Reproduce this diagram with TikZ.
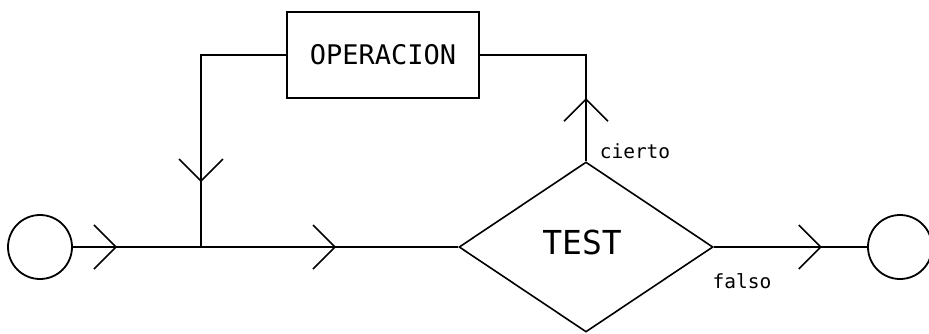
\documentclass[tikz,border=0pt]{standalone}
\usepackage{fontspec}
\newfontfamily\pixfont{DejaVu Sans Mono}
\usetikzlibrary{shapes.geometric,decorations.markings}
\tikzset{
  line/.style={line width=2pt},
  chev/.style={postaction={decorate},decoration={markings,
      mark=at position #1 with {\draw[line width=1.6pt] (-22pt,22pt) -- (0pt,0pt) -- (-22pt,-22pt);}}},
  endpt/.style={circle,draw,line width=1.8pt,minimum size=64pt,inner sep=0pt},
  opbox/.style={rectangle,draw,line width=2pt,minimum width=192pt,minimum height=86pt,inner sep=0pt,font=\pixfont\fontsize{27}{29}\selectfont},
  testnode/.style={diamond,draw,line width=1.6pt,minimum width=254pt,minimum height=170pt,inner sep=0pt},
  lbl/.style={font=\pixfont\fontsize{19.5}{21}\selectfont,inner sep=0pt}
}
\begin{document}
\begin{tikzpicture}[x=1pt,y=-1pt]
\useasboundingbox (0,0) rectangle (929,333);
\node[endpt] (start) at (40,247) {};
\node[endpt] (stop) at (900,247) {};
\node[testnode] (test) at (586,247) {};
\node[font=\pixfont\fontsize{33}{35}\selectfont,inner sep=0pt] (testlbl) at (582,242) {TEST};
\node[opbox] (op) at (383,55) {OPERACION};
\coordinate (j1) at (201,247);
\coordinate (c1) at (201,55);
\coordinate (c2) at (586,55);
\draw[line,chev=43pt] (start.east) -- (j1);
\draw[line,chev=134pt] (j1) -- (test.west);
\draw[line,chev=211pt] (op.west) -- (c1) -- (j1);
\draw[line,chev=62pt] (test.north) -- (c2) -- (op.east);
\draw[line,chev=107pt] (test.east) -- (stop.west);
\node[lbl] (cierto) at (635,151) {cierto};
\node[lbl] (falso) at (742,281) {falso};
\end{tikzpicture}
\end{document}
